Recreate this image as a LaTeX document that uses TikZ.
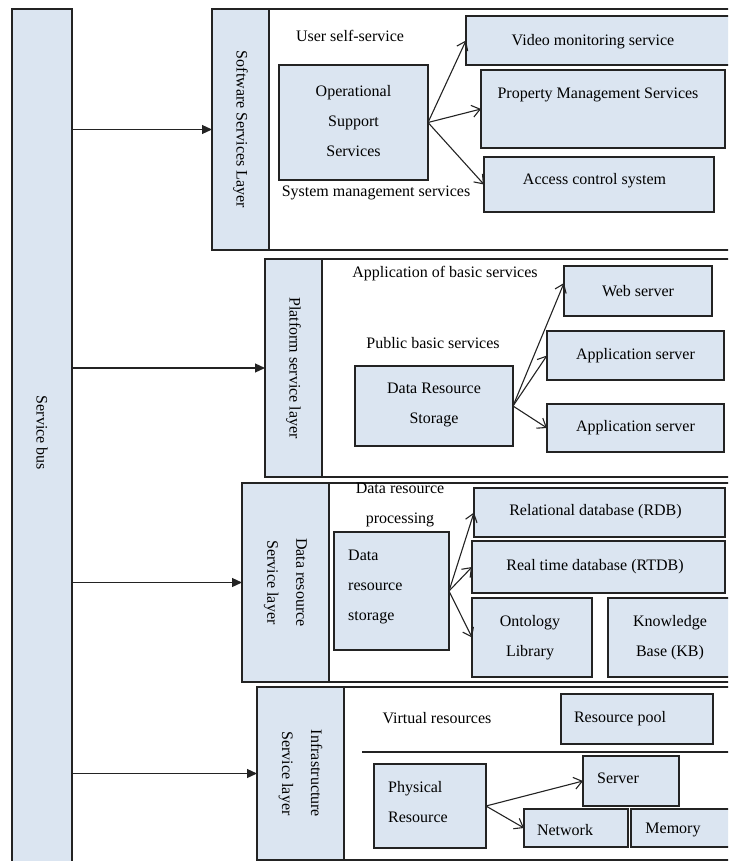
\documentclass[tikz,border=0pt]{standalone}
\usepackage{fontspec}
\setmainfont{Liberation Serif}
\usetikzlibrary{arrows.meta,calc}
\definecolor{boxc}{RGB}{219,229,241}
\definecolor{linec}{RGB}{35,35,35}
\begin{document}
\begin{tikzpicture}[x=1pt,y=-1pt,
  bx/.style={draw=linec, fill=boxc, line width=1.2pt, inner sep=0pt, outer sep=0pt, anchor=north west},
  fr/.style={draw=linec, line width=1.2pt, inner sep=0pt, outer sep=0pt, anchor=north west},
  tx/.style={font=\fontsize{16}{30}\selectfont, inner sep=0pt, align=center, text=black},
  vt/.style={tx, rotate=-90, font=\fontsize{16}{29}\selectfont},
  arr/.style={draw=linec, line width=1.1pt, -{Straight Barb[length=8pt,width=12pt]}},
  busarr/.style={draw=linec, line width=1.2pt, -{Triangle[length=10pt,width=9pt]}}]
\useasboundingbox (0,0) rectangle (728,861);
\clip (0,0) rectangle (728,861);

% service bus
\node[bx, minimum width=60pt, minimum height=866pt] (bus) at (12,9) {};
\node[vt] (busl) at (42,433) {Service bus};

% layer 1
\node[fr, minimum width=530pt, minimum height=241pt] (f1) at (212,9) {};
\node[bx, minimum width=57pt, minimum height=241pt] (l1) at (212,9) {};
\node[vt] (l1t) at (l1.center) {Software Services Layer};
\node[tx] (t1) at (350,36) {User self-service};
\node[bx, minimum width=149pt, minimum height=115pt] (ops) at (279,65) {};
\node[tx] (opst) at (353.5,121) {Operational\\Support\\Services};
\node[tx] (t2) at (376,193) {System management services};
\node[bx, minimum width=280pt, minimum height=49pt] (vms) at (466,16) {};
\node[tx] (vmst) at (593,42) {Video monitoring service};
\node[bx, minimum width=244pt, minimum height=78pt] (pms) at (481,70) {};
\node[tx] (pmst) at (598,95) {Property Management Services};
\node[bx, minimum width=230pt, minimum height=55pt] (acs) at (484,157) {};
\node[tx] (acst) at (594.5,181) {Access control system};
\draw[arr] (ops.east) -- (vms.west);
\draw[arr] (ops.east) -- (pms.west);
\draw[arr] (ops.east) -- (acs.west);

% layer 2
\node[fr, minimum width=480pt, minimum height=218pt] (f2) at (265,259) {};
\node[bx, minimum width=57pt, minimum height=218pt] (l2) at (265,259) {};
\node[vt] (l2t) at (l2.center) {Platform service layer};
\node[tx] (t3) at (445,274) {Application of basic services};
\node[tx] (t4) at (433,343) {Public basic services};
\node[bx, minimum width=158pt, minimum height=80pt] (drs) at (355,366) {};
\node[tx] (drst) at (434,405) {Data Resource\\Storage};
\node[bx, minimum width=148pt, minimum height=50pt] (web) at (564,266) {};
\node[tx] (webt) at (638,291) {Web server};
\node[bx, minimum width=177pt, minimum height=49pt] (app1) at (547,331) {};
\node[tx] (app1t) at (635.5,356) {Application server};
\node[bx, minimum width=177pt, minimum height=48pt] (app2) at (547,404) {};
\node[tx] (app2t) at (635.5,428) {Application server};
\draw[arr] (drs.east) -- ([yshift=8pt]web.west);
\draw[arr] (drs.east) -- (app1.west);
\draw[arr] (drs.east) -- (app2.west);

% layer 3
\node[fr, minimum width=500pt, minimum height=199pt] (f3) at (242,483) {};
\node[bx, minimum width=87pt, minimum height=199pt] (l3) at (242,483) {};
\node[vt] (l3t) at (l3.center) {Data resource\\Service layer};
\node[tx] (t5) at (400,505) {Data resource\\processing};
\node[bx, minimum width=115pt, minimum height=118pt] (drs2) at (334,532) {};
\node[tx, align=left, anchor=west] (drs2t) at (348,587) {Data\\resource\\storage};
\node[bx, minimum width=251pt, minimum height=49pt] (rdb) at (474,488) {};
\node[tx] (rdbt) at (595.5,512) {Relational database (RDB)};
\node[bx, minimum width=253pt, minimum height=52pt] (rtdb) at (472,541) {};
\node[tx] (rtdbt) at (595,567) {Real time database (RTDB)};
\node[bx, minimum width=120pt, minimum height=79pt] (ont) at (472,598) {};
\node[tx] (ontt) at (530,637.5) {Ontology\\Library};
\node[bx, minimum width=130pt, minimum height=79pt] (kb) at (608,598) {};
\node[tx] (kbt) at (670,637.5) {Knowledge\\Base (KB)};
\draw[arr] (drs2.east) -- (rdb.west);
\draw[arr] (drs2.east) -- (rtdb.west);
\draw[arr] (drs2.east) -- (ont.west);

% layer 4
\node[fr, minimum width=490pt, minimum height=173pt] (f4) at (257,687) {};
\node[bx, minimum width=87pt, minimum height=173pt] (l4) at (257,687) {};
\node[vt] (l4t) at (l4.center) {Infrastructure\\Service layer};
\node[tx] (t6) at (437,718) {Virtual resources};
\node[bx, minimum width=152pt, minimum height=50pt] (pool) at (561,694) {};
\node[tx] (poolt) at (620,719) {Resource pool};
\coordinate (hl) at (362,752);
\draw[line width=1.2pt, draw=linec] (hl) -- (hl -| f4.east);
\node[bx, minimum width=112pt, minimum height=84pt] (phys) at (374,764) {};
\node[tx, align=left, anchor=west] (physt) at (388,802.5) {Physical\\Resource};
\node[bx, minimum width=96pt, minimum height=50pt] (srv) at (583,756) {};
\node[tx] (srvt) at (618,778) {Server};
\node[bx, minimum width=104pt, minimum height=38pt] (net) at (524,809) {};
\node[tx] (nett) at (565,830) {Network};
\node[bx, minimum width=115pt, minimum height=38pt] (mem) at (631,809) {};
\node[tx] (memt) at (673,830) {Memory};
\draw[arr] (phys.east) -- (srv.west);
\draw[arr] (phys.east) -- (net.west);

% bus arrows
\draw[busarr] (bus.east |- l1.west) -- (l1.west);
\draw[busarr] (bus.east |- l2.west) -- (l2.west);
\draw[busarr] (bus.east |- l3.west) -- (l3.west);
\draw[busarr] (bus.east |- l4.west) -- (l4.west);
\end{tikzpicture}
\end{document}
